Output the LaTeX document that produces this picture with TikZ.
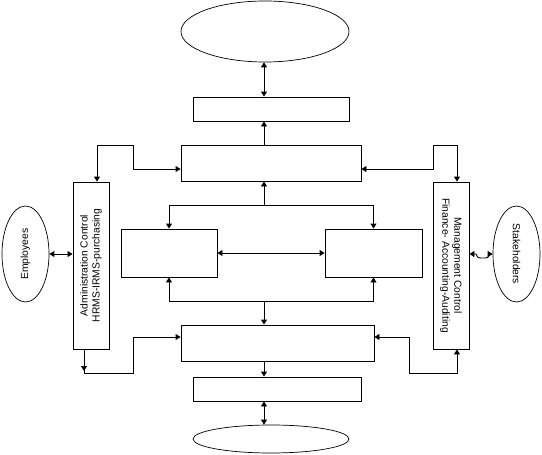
\documentclass[tikz,border=0pt]{standalone}
\usepackage{fontspec}
\setmainfont{Liberation Sans}
\usetikzlibrary{shapes.geometric,arrows.meta}
\begin{document}
\begin{tikzpicture}[x=1pt,y=-1pt,
  line width=0.9pt,
  >={Triangle[length=5pt,width=6pt]},
  box/.style={draw,rectangle,inner sep=0pt},
  ell/.style={draw,ellipse,inner sep=0pt,line width=0.7pt},
  lbl/.style={align=center,inner sep=0pt,font=\fontsize{10.3}{12}\selectfont}]
\useasboundingbox (0,0) rectangle (542,455);
% nodes
\node[ell,minimum width=168pt,minimum height=61pt] (topell) at (265,31.5) {};
\node[box,minimum width=156pt,minimum height=24pt] (b1) at (271,109) {};
\node[box,minimum width=180pt,minimum height=36pt] (b2) at (271,163) {};
\node[box,minimum width=96pt,minimum height=48pt] (ml) at (169,253) {};
\node[box,minimum width=97pt,minimum height=48pt] (mr) at (373.5,253) {};
\node[box,minimum width=193pt,minimum height=36pt] (b3) at (277.5,343) {};
\node[box,minimum width=168pt,minimum height=24pt] (b4) at (277,389) {};
\node[ell,minimum width=156pt,minimum height=28pt] (botell) at (271,439) {};
\node[box,minimum width=36pt,minimum height=167pt] (admin) at (91,265.5) {};
\node[box,minimum width=36pt,minimum height=167pt] (mgmt) at (451,265.5) {};
\node[ell,minimum width=47pt,minimum height=96pt] (emp) at (25.5,254) {};
\node[ell,minimum width=47pt,minimum height=96pt] (stake) at (516.5,254) {};
% labels
\node[lbl,rotate=90] (admintxt) at (admin.center) {Administration Control\\HRMS-IRMS-purchasing};
\node[lbl,rotate=-90] (mgmttxt) at (mgmt.center) {Management Control\\Finance- Accounting-Auditing};
\node[lbl,rotate=90] (emptxt) at (emp.center) {Employees};
\node[lbl,rotate=-90] (staketxt) at (stake.center) {Stakeholders};
% helper coordinates
\coordinate (spine) at (264,0);
\coordinate (ut) at (264,205);
\coordinate (lt) at (264,301);
\coordinate (alx) at (97,0);
\coordinate (blx) at (84,0);
\coordinate (arx) at (457,0);
% central connectors
\draw[<->] (topell.south -| spine) -- (b1.north -| spine);
\draw[->] (b2.north -| spine) -- (b1.south -| spine);
\draw[->] (ut) -- (b2.south -| spine);
\draw[->] (ut) -| (ml.north);
\draw[->] (ut) -| (mr.north);
\draw[<->] (ml.east) -- (mr.west);
\draw[->] (lt) -| (ml.south);
\draw[->] (lt) -| (mr.south);
\draw[->] (lt) -- (b3.north -| spine);
\draw[->] (b3.south -| spine) -- (b4.north -| spine);
\draw[<->] (b4.south -| spine) -- (botell.north -| spine);
% side connectors
\draw[<->] (admin.north -| alx) -- (97,145) -- (133,145) -- (133,169) -- ([yshift=-6pt]b2.west);
\draw[<->] (mgmt.north -| arx) -- (457,145) -- (433,145) -- (433,169) -- ([yshift=-6pt]b2.east);
\draw[->] (admin.south -| blx) -- (84,371);
\draw[->] (admin.south -| blx) -- (84,373) -- (133,373) -- (133,337) -- ([yshift=6pt]b3.west);
\draw[<->] (mgmt.south -| arx) -- (457,373) -- (409,373) -- (409,337) -- ([yshift=6pt]b3.east);
\draw[<->] (emp.east) -- (admin.west |- emp.east);
\draw[<->] (mgmt.east |- stake.west) -- (476,254) .. controls (478,258) .. (481,258) -- (485,258) .. controls (488,258) .. (489,254) -- (stake.west);
\end{tikzpicture}
\end{document}
